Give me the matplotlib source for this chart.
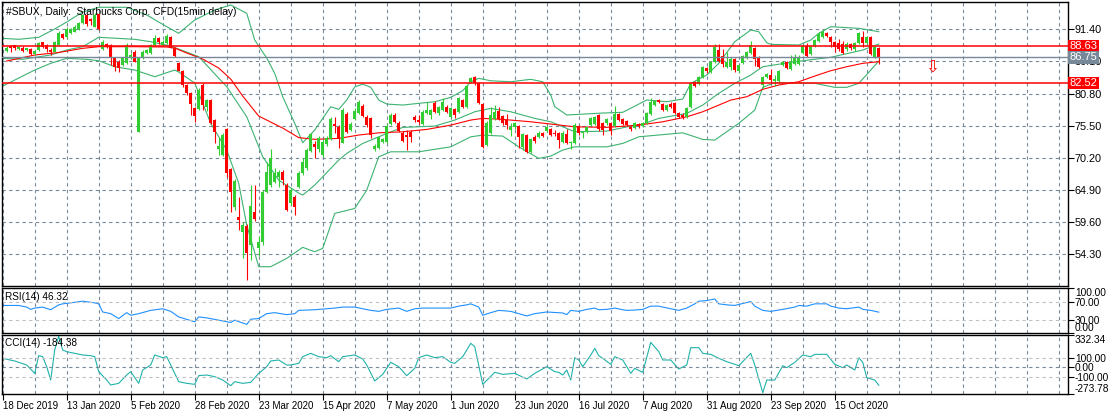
import matplotlib
matplotlib.use("Agg")
import matplotlib.pyplot as plt
import matplotlib.transforms as mtransforms
import numpy as np

plt.rcParams['font.family'] = ['Liberation Sans', 'DejaVu Sans']

# daily candles, bar 1 .. 219 (bar 0 = 18 Dec 2019)
opens = [87.86, 88.69, 88.76, 88.10, 88.36, 87.98, 88.10, 87.27, 87.98, 89.25,
         88.81, 87.98, 87.70, 88.81, 90.57, 90.17, 90.74, 91.00, 91.40, 92.48,
         93.76, 93.05, 91.82, 93.92, 88.10, 88.97, 88.81, 86.61, 86.05, 85.51,
         85.79, 86.82, 87.70, 74.50, 86.61, 87.53, 87.44, 88.81, 89.96, 88.81,
         89.19, 90.12, 88.31, 85.88, 84.56, 82.20, 80.84, 78.41, 78.19, 82.20,
         78.62, 79.73, 76.43, 71.70, 70.65, 74.95, 68.34, 62.12, 60.43, 58.00,
         58.94, 55.81, 61.30, 55.26, 56.35, 64.60, 65.70, 66.25, 67.07, 67.90,
         65.70, 62.69, 63.78, 65.38, 67.68, 68.46, 71.36, 72.47, 71.65, 70.65,
         72.47, 73.34, 75.77, 75.32, 72.68, 77.42, 74.78, 76.55, 77.63, 78.74,
         76.87, 76.71, 71.60, 71.76, 72.85, 72.85, 75.77, 77.25, 75.98, 74.33,
         73.95, 74.50, 76.97, 76.43, 75.77, 77.53, 77.25, 79.29, 77.53, 78.08,
         78.63, 76.97, 78.33, 77.70, 79.73, 78.62, 82.75, 83.48, 82.49, 79.07,
         72.30, 74.33, 76.55, 77.96, 77.09, 76.43, 74.78, 75.23, 75.44, 72.02,
         73.95, 71.20, 73.58, 73.58, 74.23, 74.66, 74.90, 74.33, 74.33, 72.85,
         74.12, 72.59, 72.68, 75.44, 74.33, 74.45, 75.61, 75.77, 77.25, 75.88,
         75.88, 75.88, 75.44, 77.42, 76.55, 76.27, 75.32, 75.06, 75.77, 75.44,
         75.88, 77.37, 78.91, 79.73, 79.07, 78.08, 79.07, 79.19, 77.53, 77.25,
         76.97, 78.53, 82.75, 82.37, 83.47, 84.96, 84.40, 86.00, 87.98, 86.99,
         85.26, 85.23, 86.45, 84.60, 85.88, 86.66, 87.49, 88.26, 86.87, 82.20,
         83.48, 83.85, 82.91, 82.91, 85.51, 86.05, 84.79, 85.67, 85.67, 87.44,
         88.64, 87.32, 88.64, 89.51, 90.17, 90.83, 90.17, 89.35, 89.19, 88.97,
         88.10, 88.92, 88.10, 89.09, 90.17, 89.19, 90.08, 86.78, 88.26]
highs = [88.64, 88.81, 88.89, 88.64, 88.64, 88.39, 88.31, 87.98, 89.30, 89.38,
         88.97, 88.31, 89.46, 91.12, 90.78, 91.82, 91.61, 92.10, 92.60, 93.92,
         93.92, 93.21, 94.04, 94.09, 89.63, 89.14, 88.97, 86.82, 86.33, 86.82,
         89.09, 87.48, 87.98, 86.82, 87.98, 88.15, 88.97, 90.45, 90.17, 89.63,
         90.62, 90.29, 88.53, 86.08, 84.68, 82.37, 81.05, 78.57, 81.66, 82.58,
         79.90, 79.90, 76.60, 73.62, 74.28, 75.11, 68.51, 66.70, 63.78, 59.60,
         59.27, 65.70, 65.70, 57.29, 64.88, 69.55, 71.65, 68.46, 68.18, 68.18,
         66.03, 65.21, 64.06, 68.01, 70.16, 71.81, 74.33, 72.97, 73.79, 73.29,
         73.79, 76.93, 76.87, 75.61, 78.41, 77.75, 76.10, 78.41, 79.73, 79.07,
         77.25, 76.93, 72.42, 73.79, 73.46, 75.77, 77.58, 77.53, 76.27, 74.62,
         74.78, 74.78, 77.25, 77.25, 78.08, 79.45, 78.25, 79.57, 78.74, 80.01,
         78.91, 78.57, 78.49, 80.23, 79.90, 82.20, 83.57, 83.64, 82.62, 79.24,
         76.27, 78.63, 78.91, 78.53, 77.34, 77.37, 75.89, 76.10, 75.61, 74.24,
         74.12, 73.46, 73.95, 74.66, 74.45, 75.61, 75.11, 74.78, 74.53, 74.66,
         74.90, 73.05, 75.89, 75.61, 74.70, 75.52, 76.97, 77.17, 77.42, 76.10,
         76.76, 76.10, 78.74, 77.58, 76.76, 76.43, 75.52, 76.10, 75.98, 76.10,
         77.75, 80.01, 79.73, 79.90, 79.24, 79.07, 79.45, 79.40, 77.75, 77.58,
         78.57, 82.70, 82.95, 83.77, 85.42, 85.23, 86.25, 88.97, 88.97, 88.10,
         87.70, 86.82, 86.66, 85.67, 87.15, 87.90, 89.51, 88.48, 87.07, 83.69,
         84.23, 84.79, 83.85, 84.68, 86.25, 86.25, 87.15, 87.32, 87.15, 88.81,
         89.19, 88.81, 89.80, 91.00, 91.28, 91.03, 90.37, 89.55, 89.75, 89.51,
         89.35, 89.14, 89.35, 90.95, 91.16, 90.29, 90.29, 88.72, 88.48]
lows = [87.65, 87.70, 87.98, 87.98, 87.70, 87.82, 87.10, 87.15, 87.82, 88.31,
        87.70, 87.15, 87.65, 88.64, 89.80, 90.04, 90.62, 90.95, 91.28, 92.35,
        91.94, 92.10, 91.78, 91.28, 87.98, 88.31, 85.51, 84.56, 84.40, 85.34,
        85.67, 86.49, 86.00, 74.45, 86.49, 87.32, 87.32, 88.64, 88.97, 88.64,
        88.97, 88.31, 86.82, 84.51, 81.92, 80.56, 77.25, 76.15, 78.08, 78.08,
        77.96, 75.85, 72.63, 70.65, 70.49, 67.07, 61.30, 61.58, 58.28, 53.66,
        50.03, 53.33, 59.77, 53.99, 55.81, 64.38, 65.38, 66.03, 65.42, 65.70,
        61.47, 62.41, 60.76, 65.21, 67.36, 68.18, 71.15, 70.11, 71.15, 70.31,
        72.14, 73.13, 74.33, 71.76, 72.63, 74.28, 74.62, 76.43, 77.42, 76.93,
        75.28, 73.41, 71.36, 71.65, 72.63, 72.63, 75.61, 75.93, 74.45, 72.80,
        71.48, 72.85, 76.15, 75.72, 75.61, 77.42, 76.55, 77.58, 77.25, 77.91,
        77.67, 76.84, 76.71, 77.58, 78.41, 78.41, 82.53, 82.29, 79.07, 71.81,
        72.14, 74.20, 76.43, 76.43, 75.61, 74.90, 73.79, 75.03, 71.86, 71.48,
        71.07, 71.07, 72.59, 73.46, 73.62, 74.53, 73.79, 73.79, 71.76, 72.72,
        72.55, 71.59, 72.55, 74.04, 73.41, 74.28, 75.44, 75.61, 74.70, 73.95,
        75.61, 73.95, 75.28, 76.27, 75.61, 75.44, 74.70, 74.95, 75.06, 75.28,
        75.77, 77.25, 78.74, 79.24, 77.91, 77.91, 78.41, 77.42, 76.76, 76.68,
        76.84, 78.41, 81.88, 82.20, 83.36, 84.23, 84.27, 85.84, 86.05, 85.23,
        85.06, 84.68, 84.40, 84.23, 85.67, 86.49, 87.32, 85.34, 84.96, 81.66,
        83.31, 82.49, 82.04, 82.78, 85.34, 84.79, 84.68, 85.51, 85.51, 87.32,
        86.78, 87.15, 88.48, 89.38, 90.04, 90.12, 88.53, 87.70, 87.90, 87.40,
        87.90, 87.98, 87.90, 88.97, 88.53, 89.05, 87.15, 86.66, 85.67]
closes = [88.36, 88.26, 88.31, 88.53, 87.82, 88.26, 87.27, 87.86, 89.09, 88.43,
          88.15, 87.70, 89.35, 90.74, 90.01, 91.40, 91.40, 91.82, 92.39, 93.76,
          92.27, 92.81, 93.76, 91.40, 89.35, 88.53, 86.61, 85.23, 84.96, 86.61,
          88.81, 87.15, 86.05, 86.61, 87.70, 87.98, 88.81, 89.91, 89.30, 89.35,
          90.29, 88.48, 86.99, 84.56, 82.20, 80.93, 79.07, 77.09, 81.38, 78.91,
          79.73, 75.98, 74.50, 72.14, 73.95, 67.68, 64.55, 66.41, 59.93, 59.10,
          54.49, 62.24, 60.05, 56.35, 64.60, 67.90, 70.11, 67.73, 67.90, 66.53,
          61.58, 64.88, 62.12, 67.68, 69.55, 71.48, 74.12, 71.93, 73.46, 72.85,
          73.41, 76.60, 75.44, 73.25, 78.08, 74.50, 75.77, 77.96, 79.45, 77.09,
          75.61, 73.95, 72.14, 73.58, 73.29, 75.44, 77.25, 76.15, 74.66, 73.01,
          73.67, 73.67, 76.43, 76.15, 77.80, 78.08, 78.08, 77.80, 78.52, 79.40,
          77.80, 78.36, 77.25, 80.01, 78.62, 82.04, 83.36, 82.49, 79.19, 72.02,
          75.98, 77.25, 77.80, 76.55, 75.98, 75.61, 75.23, 75.89, 73.67, 74.12,
          71.20, 73.25, 73.01, 74.33, 73.79, 75.32, 73.95, 74.12, 73.13, 74.33,
          72.68, 72.85, 75.61, 74.24, 74.50, 75.27, 76.71, 76.97, 74.90, 74.78,
          76.55, 74.66, 77.37, 76.43, 75.77, 75.61, 74.90, 75.88, 75.44, 75.88,
          77.53, 79.45, 79.57, 79.45, 78.08, 78.91, 78.53, 77.53, 76.97, 76.87,
          78.36, 82.49, 82.04, 83.57, 85.23, 84.56, 86.05, 88.52, 86.22, 85.75,
          86.08, 86.58, 84.68, 85.51, 86.99, 87.70, 88.81, 86.44, 85.23, 83.48,
          84.02, 83.03, 83.15, 84.56, 86.05, 84.96, 86.05, 86.88, 86.61, 88.64,
          86.99, 88.64, 89.63, 90.62, 91.00, 90.29, 89.35, 88.53, 88.10, 87.53,
          88.97, 88.26, 89.09, 90.74, 89.09, 90.08, 87.32, 88.53, 86.75]

# moving average (red)
ma_idx = [1, 8, 14, 20, 24, 33, 41, 43, 46, 50, 54, 57, 60, 62, 64, 67, 70, 74, 78, 84,
          89, 94, 100, 106, 112, 117, 120, 125, 132, 137, 143, 151, 159, 165, 171, 175,
          179, 182, 186, 190, 194, 199, 203, 207, 211, 215, 219]
ma_val = [86.17, 87.16, 87.57, 88.26, 88.53, 88.53, 88.48, 88.31, 87.49, 86.50, 85.01,
          83.19, 80.39, 78.74, 77.09, 76.10, 75.11, 73.54, 73.25, 73.41, 73.96, 74.33,
          74.50, 74.89, 75.60, 76.43, 76.71, 76.54, 76.15, 75.77, 75.32, 75.23, 75.60,
          76.15, 76.97, 77.80, 78.90, 79.73, 80.28, 81.50, 82.21, 82.75, 83.69, 84.57,
          85.23, 85.79, 86.05]

# bollinger bands (green)
up_idx = [0, 4, 9, 13, 16, 20, 24, 31, 36, 41, 44, 48, 53, 57, 61, 63, 66, 68, 70, 73,
          75, 78, 82, 84, 86, 88, 90, 92, 94, 96, 100, 104, 108, 112, 115, 117, 119, 122,
          127, 132, 135, 137, 138, 141, 150, 155, 161, 166, 170, 172, 176, 179, 183, 187,
          189, 191, 192, 199, 202, 204, 207, 214, 219]
up_val = [89.91, 89.75, 90.08, 91.45, 92.60, 94.25, 95.03, 95.03, 93.76, 91.83, 90.74,
          92.93, 94.58, 95.41, 94.04, 89.63, 86.66, 84.14, 80.28, 75.89, 72.69, 74.78,
          78.63, 78.20, 79.74, 81.88, 82.37, 81.83, 79.74, 79.07, 78.91, 79.19, 79.45,
          80.18, 81.27, 82.75, 83.31, 82.91, 82.75, 83.15, 82.75, 80.55, 78.63, 77.27,
          77.59, 77.71, 79.74, 79.46, 79.90, 82.49, 83.86, 85.79, 89.35, 91.28, 91.00,
          89.19, 88.92, 88.81, 89.63, 90.74, 91.83, 91.56, 91.00]
mid_idx = [0, 5, 12, 16, 20, 24, 33, 37, 42, 49, 56, 61, 65, 69, 74, 75, 78, 84, 86, 90,
           94, 96, 100, 108, 113, 118, 122, 127, 133, 137, 143, 151, 157, 160, 164, 171,
           175, 179, 183, 187, 190, 198, 207, 215, 219]
mid_val = [86.61, 86.45, 87.16, 87.98, 88.53, 90.08, 89.75, 89.35, 88.64, 86.88, 81.93,
           76.98, 70.38, 66.53, 64.39, 64.06, 65.71, 69.83, 70.93, 72.58, 73.67, 74.23,
           75.22, 75.44, 76.43, 77.80, 78.36, 77.80, 76.71, 76.15, 74.50, 74.61, 75.44,
           75.77, 76.71, 77.53, 78.91, 80.84, 82.49, 83.86, 85.23, 86.05, 86.78, 87.98,
           88.97]
low_idx = [0, 3, 8, 12, 16, 21, 24, 28, 33, 38, 43, 44, 48, 52, 56, 59, 61, 64, 67, 71,
           75, 78, 80, 83, 88, 91, 94, 97, 104, 112, 117, 120, 125, 129, 134, 137, 140,
           143, 151, 155, 159, 170, 175, 178, 184, 188, 190, 193, 203, 208, 211, 214, 217,
           219]
low_val = [82.04, 83.03, 84.68, 85.79, 86.61, 86.45, 86.22, 85.23, 84.68, 83.58, 84.68,
           84.35, 82.53, 75.89, 71.49, 66.00, 59.13, 52.25, 52.25, 53.63, 55.44, 54.72,
           55.27, 61.04, 61.86, 64.88, 70.38, 71.20, 71.20, 72.02, 73.67, 73.95, 73.79,
           72.02, 70.11, 70.49, 71.49, 72.02, 72.02, 72.58, 73.67, 74.33, 73.24, 73.13,
           75.89, 78.08, 81.83, 82.59, 82.49, 81.83, 81.83, 82.49, 84.68, 86.17]

rsi_idx = [0, 4, 6, 7, 8, 10, 12, 14, 15, 17, 20, 23, 24, 25, 27, 29, 31, 32, 34, 37, 40,
           42, 44, 48, 49, 51, 54, 57, 58, 61, 62, 64, 66, 68, 71, 73, 74, 78, 81, 83, 85,
           88, 90, 92, 94, 96, 99, 101, 103, 105, 108, 112, 114, 116, 117, 119, 120, 122,
           124, 127, 131, 133, 136, 140, 141, 142, 144, 146, 148, 149, 151, 153, 155, 156,
           158, 160, 162, 164, 165, 167, 169, 171, 173, 174, 176, 178, 179, 181, 183, 187,
           188, 190, 192, 195, 198, 199, 201, 203, 206, 207, 209, 211, 214, 215, 217, 219]
rsi_val = [61.2, 61.2, 57.6, 52.5, 55.4, 57.6, 51.7, 62.6, 64.8, 67.0, 70.7, 67.0, 64.8,
           46.7, 43.0, 32.1, 45.2, 39.4, 43.0, 50.3, 53.9, 48.1, 35.7, 24.8, 35.7, 33.6,
           28.5, 23.4, 28.5, 19.0, 30.7, 32.1, 43.0, 45.2, 40.8, 43.0, 50.3, 51.7, 53.9,
           55.4, 57.6, 57.6, 53.9, 50.3, 48.1, 52.5, 55.4, 48.1, 53.9, 55.4, 55.4, 55.4,
           59.7, 62.6, 64.8, 57.6, 39.4, 45.2, 50.3, 48.1, 37.9, 43.0, 46.7, 44.5, 40.8,
           50.3, 48.1, 52.5, 55.4, 51.7, 52.5, 55.4, 51.7, 50.3, 51.0, 52.5, 59.7, 59.7,
           57.6, 53.9, 50.3, 55.4, 64.8, 70.7, 72.1, 75.7, 64.8, 62.6, 61.2, 69.9, 59.7,
           50.3, 48.1, 52.5, 57.6, 61.2, 59.7, 64.8, 64.8, 59.7, 55.4, 53.9, 57.6, 52.5,
           50.3, 46.32]

cci_idx = [0, 3, 6, 8, 9, 10, 11, 12, 13, 14,
           15, 16, 18, 20, 22, 23, 24, 26, 27, 29,
           31, 32, 34, 35, 37, 38, 40, 41, 42, 44,
           46, 48, 49, 51, 53, 55, 57, 58, 60, 62,
           64, 66, 67, 69, 71, 72, 74, 75, 77, 79,
           81, 82, 84, 85, 88, 90, 91, 93, 95, 97,
           99, 101, 103, 104, 106, 108, 110, 112, 113, 115,
           117, 118, 120, 123, 125, 128, 131, 133, 136, 138,
           139, 140, 141, 142, 143, 144, 145, 147, 148, 149,
           150, 152, 153, 155, 157, 158, 160, 162, 164, 165,
           167, 169, 171, 172, 174, 175, 177, 179, 181, 184,
           187, 188, 190, 191, 193, 195, 196, 198, 200, 202,
           203, 206, 208, 210, 211, 213, 214, 215, 216, 218, 219]
cci_val = [92.6, 65.2, 24.1, -61.5, 120.0, 109.7, 7.0, -130.0, 178.2, 320.0,
           178.2, 161.1, 144.0, 126.9, 120.0, 109.7, -44.4, -130.0, -181.4, -164.2,
           -78.6, -44.4, -164.2, -27.2, 24.1, 126.9, 99.5, 109.7, 24.1, -147.1,
           -164.2, -174.5, -85.5, -78.6, -95.7, -130.0, -188.2, -147.1, -164.2, -154.0,
           -61.5, 7.0, 65.2, 75.5, 24.1, 24.1, 41.2, 109.7, 144.0, 109.7,
           99.5, 120.0, 58.4, 109.7, 126.9, 85.8, 24.1, -140.3, -71.8, 51.5,
           7.0, -85.5, -10.1, 99.5, 126.9, 99.5, 109.7, 51.5, 41.2, 109.7,
           246.7, 212.5, -174.5, -51.2, -71.8, -61.5, -119.7, -61.5, 7.0, -44.4,
           -51.2, -78.6, -27.2, -130.0, 99.5, 75.5, 7.0, 126.9, 195.3, 120.0,
           92.6, 31.0, 109.7, 75.5, -61.5, -10.1, -51.2, 257.0, 161.1, 75.5,
           75.5, -17.0, 24.1, 202.2, 202.2, 144.0, 133.7, 92.6, 58.4, 17.3,
           144.0, 24.1, -260.0, -130.0, -130.0, 17.3, -3.3, 51.5, 126.9, 109.7,
           133.7, 133.7, 31.0, -3.3, 24.1, -27.2, 99.5, 51.5, -106.0, -130.0, -184.38]

price_ticks = [91.40, 86.10, 80.80, 75.50, 70.20, 64.90, 59.60, 54.30]
level_red = [88.63, 82.52]
last_close = 86.75
date_labels = ["18 Dec 2019", "13 Jan 2020", "5 Feb 2020", "28 Feb 2020", "23 Mar 2020",
               "15 Apr 2020", "7 May 2020", "1 Jun 2020", "23 Jun 2020", "16 Jul 2020",
               "7 Aug 2020", "31 Aug 2020", "23 Sep 2020", "15 Oct 2020"]
arrow_bar, arrow_price = 232.3, 85.3

GRID = '#778899'
LEVEL = '#C0C0C0'
BULL = '#32CD32'
BEAR = '#FF0000'
BAND = '#3CB371'
DASH = (0, (3, 3))

fig = plt.figure(figsize=(11.11, 4.15), dpi=100)
W, H = 1111.0, 415.0
ax = fig.add_axes([2 / W, 1 - 286 / H, 1066 / W, 284 / H])
ax_rsi = fig.add_axes([2 / W, 1 - 333 / H, 1066 / W, 45 / H], sharex=ax)
ax_cci = fig.add_axes([2 / W, 1 - 394 / H, 1066 / W, 59 / H], sharex=ax)

bars = np.arange(1, len(closes) + 1)
o = np.array(opens); c = np.array(closes)
hi = np.array(highs); lo = np.array(lows)
cols = np.where(c >= o, BULL, BEAR)

ax.vlines(bars, lo, hi, colors=cols, lw=0.8, zorder=3)
body = np.maximum(np.abs(c - o), 0.12)
ax.bar(bars, body, bottom=np.minimum(o, c), width=0.75, color=cols, lw=0, zorder=4)

ax.plot(up_idx, up_val, color=BAND, lw=0.8, zorder=2)
ax.plot(mid_idx, mid_val, color=BAND, lw=0.8, zorder=2)
ax.plot(low_idx, low_val, color=BAND, lw=0.8, zorder=2)
ax.plot(ma_idx, ma_val, color=BEAR, lw=0.8, zorder=2)

for lv in level_red:
    ax.axhline(lv, color=BEAR, lw=1.1, zorder=5)
ax.axhline(last_close, color='#778899', lw=1.0, zorder=5)

ax.text(arrow_bar, arrow_price, '\u21e9', color=BEAR, fontsize=12, ha='center', va='center',
        family='DejaVu Sans', zorder=6)

ax.set_xlim(-0.175, 266.3)
ax.set_ylim(49.07, 95.90)

# right-hand price scale
ax.yaxis.tick_right()
ax.set_yticks(price_ticks)
ax.set_yticklabels(['%.2f' % t for t in price_ticks])

tr = mtransforms.blended_transform_factory(ax.transAxes, ax.transData)
box = dict(boxstyle='square,pad=0.12', lw=0)
for lv in level_red:
    ax.text(1.0015, lv, '%.2f' % lv, transform=tr, color='white', fontsize=8, va='center',
            ha='left', clip_on=False, zorder=10, bbox=dict(box, facecolor=BEAR))
ax.text(1.0015, last_close, '%.2f' % last_close, transform=tr, color='white', fontsize=8,
        va='center', ha='left', clip_on=False, zorder=10, bbox=dict(box, facecolor='#778899'))

ax.text(0.004, 0.966, '#SBUX, Daily:  Starbucks Corp. CFD(15min delay)', transform=ax.transAxes,
        fontsize=7.4, va='center', ha='left')

# RSI
ax_rsi.plot(rsi_idx, rsi_val, color='#1E90FF', lw=0.8)
ax_rsi.set_ylim(0, 100)
for lv in [70, 30]:
    ax_rsi.axhline(lv, color=LEVEL, lw=0.8, ls=DASH)
ax_rsi.yaxis.tick_right()
ax_rsi.set_yticks([100, 70, 30, 0])
ax_rsi.set_yticklabels(['100.00', '70.00', '30.00', '0.00'])
ax_rsi.text(0.003, 0.8, 'RSI(14) 46.32', transform=ax_rsi.transAxes, fontsize=7.2, va='center')

# CCI
ax_cci.plot(cci_idx, cci_val, color='#20B2AA', lw=0.8)
ax_cci.set_ylim(-273.78, 332.34)
ax_cci.axhline(100, color=LEVEL, lw=0.8, ls=DASH)
ax_cci.axhline(0, color=GRID, lw=0.8, ls=DASH)
ax_cci.axhline(-100, color=LEVEL, lw=0.8, ls=DASH)
ax_cci.yaxis.tick_right()
ax_cci.set_yticks([332.34, 100, 0, -100, -273.78])
ax_cci.set_yticklabels(['332.34', '100.00', '0.00', '-100.00', '-273.78'])
ax_cci.text(0.003, 0.86, 'CCI(14) -184.38', transform=ax_cci.transAxes, fontsize=7.2, va='center')

# time scale + vertical grid
ax_cci.set_xticks(np.arange(0, 16 * len(date_labels), 16))
ax_cci.set_xticklabels(date_labels)
ax_cci.set_xticks(np.arange(0, 267, 8), minor=True)
for lab in ax_cci.get_xticklabels():
    lab.set_ha('left')

for a in (ax, ax_rsi, ax_cci):
    a.grid(True, which='both', axis='x', color=GRID, lw=0.8, ls=DASH)
    a.tick_params(axis='y', direction='out', length=4, width=0.8, pad=1, labelsize=7.8,
                  right=True, left=False)
    a.tick_params(axis='x', which='minor', length=0)
    for s in a.spines.values():
        s.set_color('black')
        s.set_linewidth(1.0)
    a.set_facecolor('white')
for a in (ax_rsi, ax_cci):
    a.tick_params(axis='y', labelsize=7.3)
    labs = a.get_yticklabels()
    labs[0].set_va('top')
    labs[-1].set_va('bottom')
ax.grid(True, axis='y', color=GRID, lw=0.8, ls=DASH)
ax.tick_params(axis='x', which='both', length=0, labelbottom=False)
ax_rsi.tick_params(axis='x', which='both', length=0, labelbottom=False)
ax_cci.tick_params(axis='x', which='major', length=4, width=0.8, pad=1, labelsize=7)

plt.savefig('out.png', dpi=100)
